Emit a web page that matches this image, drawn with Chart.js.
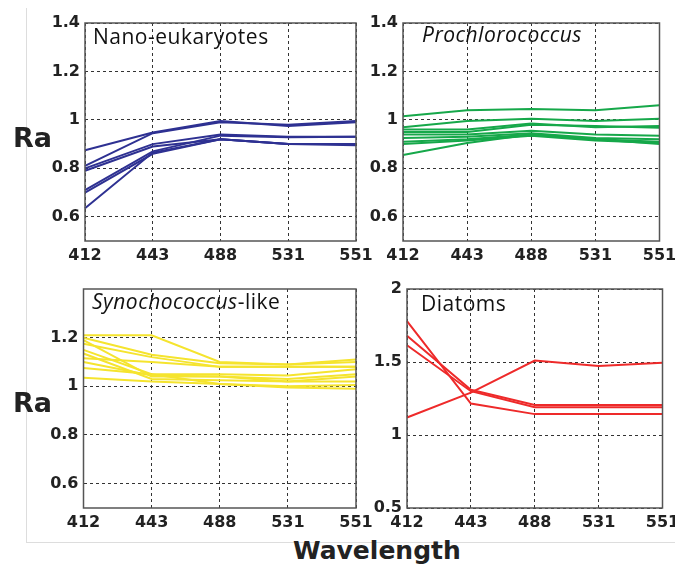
<!DOCTYPE html>
<html><head><meta charset="utf-8">
<script src="https://cdn.jsdelivr.net/npm/chart.js@4.4.1/dist/chart.umd.min.js"></script>
<style>
html,body{margin:0;padding:0;background:#fff;}
#wrap{position:relative;width:675px;height:569px;overflow:hidden;background:#fff;}
canvas{position:absolute;}
.frame-v{position:absolute;left:26px;top:8px;width:1px;height:535px;background:#ddd;}
.frame-h{position:absolute;left:26px;top:542px;width:649px;height:1px;background:#ddd;}
.lbl{position:absolute;font-family:"DejaVu Sans";font-weight:bold;color:#222;white-space:nowrap;line-height:1;}
.ttl{position:absolute;font-family:"Open Sans";font-size:21px;letter-spacing:0.5px;color:#111;white-space:nowrap;line-height:1;}
</style></head>
<body>
<div id="wrap">
  <div class="frame-v"></div>
  <div class="frame-h"></div>
  <canvas id="c1" width="345" height="262" style="left:30px;top:8px"></canvas>
  <canvas id="c2" width="325" height="262" style="left:350px;top:8px"></canvas>
  <canvas id="c3" width="345" height="262" style="left:30px;top:274px"></canvas>
  <canvas id="c4" width="325" height="262" style="left:350px;top:274px"></canvas>
  <div class="ttl" style="left:93px;top:26px">Nano-eukaryotes</div>
  <div class="ttl" style="left:422px;top:24px"><i>Prochlorococcus</i></div>
  <div class="ttl" style="left:92px;top:291px"><i>Synochococcus</i>-like</div>
  <div class="ttl" style="left:421px;top:293px">Diatoms</div>
  <div class="lbl" style="left:13px;top:124px;font-size:27px">Ra</div>
  <div class="lbl" style="left:13px;top:389px;font-size:27px">Ra</div>
  <div class="lbl" style="left:293px;top:538px;font-size:25px">Wavelength</div>
</div>
<script>
// ---- data ----
const wavelengths = ['412', '443', '488', '531', '551'];

const nanoSeries = [
  [0.875, 0.948, 0.995, 0.975, 0.99],
  [0.81, 0.945, 0.99, 0.98, 0.995],
  [0.80, 0.90, 0.94, 0.93, 0.93],
  [0.79, 0.89, 0.92, 0.90, 0.90],
  [0.71, 0.87, 0.935, 0.928, 0.93],
  [0.70, 0.86, 0.92, 0.90, 0.90],
  [0.635, 0.865, 0.92, 0.90, 0.895]
];

const prochSeries = [
  [1.015, 1.04, 1.045, 1.04, 1.06],
  [0.97, 0.995, 1.005, 0.995, 1.005],
  [0.96, 0.96, 0.985, 0.97, 0.975],
  [0.95, 0.95, 0.98, 0.975, 0.968],
  [0.94, 0.94, 0.955, 0.94, 0.935],
  [0.925, 0.93, 0.945, 0.925, 0.92],
  [0.91, 0.92, 0.94, 0.92, 0.91],
  [0.90, 0.915, 0.935, 0.915, 0.905],
  [0.855, 0.905, 0.94, 0.92, 0.90]
];

const synSeries = [
  [1.21, 1.21, 1.10, 1.09, 1.11],
  [1.20, 1.13, 1.095, 1.09, 1.10],
  [1.19, 1.04, 1.04, 1.03, 1.05],
  [1.175, 1.12, 1.08, 1.08, 1.08],
  [1.15, 1.05, 1.05, 1.045, 1.07],
  [1.135, 1.03, 1.025, 1.02, 1.04],
  [1.115, 1.10, 1.08, 1.08, 1.08],
  [1.10, 1.045, 1.04, 1.02, 1.02],
  [1.075, 1.05, 1.01, 1.00, 1.005],
  [1.035, 1.02, 1.01, 0.995, 0.99]
];

const diatomSeries = [
  [1.78, 1.215, 1.143, 1.143, 1.143],
  [1.68, 1.31, 1.205, 1.205, 1.205],
  [1.615, 1.30, 1.19, 1.19, 1.19],
  [1.12, 1.29, 1.51, 1.473, 1.495]
];

const yTicksTop = [0.6, 0.8, 1, 1.2, 1.4];
const yTicksSyn = [0.6, 0.8, 1, 1.2];
const yTicksDiatom = [0.5, 1, 1.5, 2];

// ---- drawing ----
const frameBox = {
  id: 'frameBox',
  afterDraw(chart) {
    const {ctx, chartArea: a} = chart;
    ctx.save();
    ctx.strokeStyle = '#555';
    ctx.lineWidth = 1.5;
    ctx.strokeRect(a.left, a.top, a.right - a.left, a.bottom - a.top);
    ctx.restore();
  }
};

function makePanel(id, series, color, yMin, yMax, yTicks, yAxisW, padTop, padRight, xAxisH) {
  new Chart(document.getElementById(id), {
    type: 'line',
    data: {
      labels: wavelengths,
      datasets: series.map(s => ({
        data: s, borderColor: color, borderWidth: 2,
        pointRadius: 0, tension: 0, fill: false
      }))
    },
    options: {
      responsive: false, animation: false, devicePixelRatio: 1,
      layout: {padding: {top: padTop, right: padRight, left: 0, bottom: 0}},
      plugins: {legend: {display: false}, tooltip: {enabled: false}},
      scales: {
        x: {
          type: 'category', offset: false,
          grid: {color: '#333', lineWidth: 1, drawTicks: false, offset: false},
          border: {display: false, dash: [3, 3]},
          ticks: {color: '#222', font: {family: 'DejaVu Sans', weight: 'bold', size: 16}, padding: 5, maxRotation: 0, autoSkip: false},
          afterFit: ax => { ax.height = xAxisH; ax.paddingLeft = 0; ax.paddingRight = 0; }
        },
        y: {
          min: yMin, max: yMax,
          afterBuildTicks: ax => { ax.ticks = yTicks.map(v => ({value: v})); },
          grid: {color: '#333', lineWidth: 1, drawTicks: false},
          border: {display: false, dash: [3, 3]},
          ticks: {color: '#222', font: {family: 'DejaVu Sans', weight: 'bold', size: 16}, padding: 5,
                  callback: v => String(v)},
          afterFit: ax => { ax.width = yAxisW; ax.paddingTop = 0; ax.paddingBottom = 0; }
        }
      }
    },
    plugins: [frameBox]
  });
}

makePanel('c1', nanoSeries, '#2e3192', 0.5, 1.4, yTicksTop, 55, 15, 19, 29);
makePanel('c2', prochSeries, '#16a84a', 0.5, 1.4, yTicksTop, 53, 15, 15.5, 29);
makePanel('c3', synSeries, '#f5e42e', 0.5, 1.4, yTicksSyn, 53.5, 15, 19, 28);
makePanel('c4', diatomSeries, '#ee2a2a', 0.5, 2, yTicksDiatom, 57, 15, 12.5, 28);
</script>
</body></html>
